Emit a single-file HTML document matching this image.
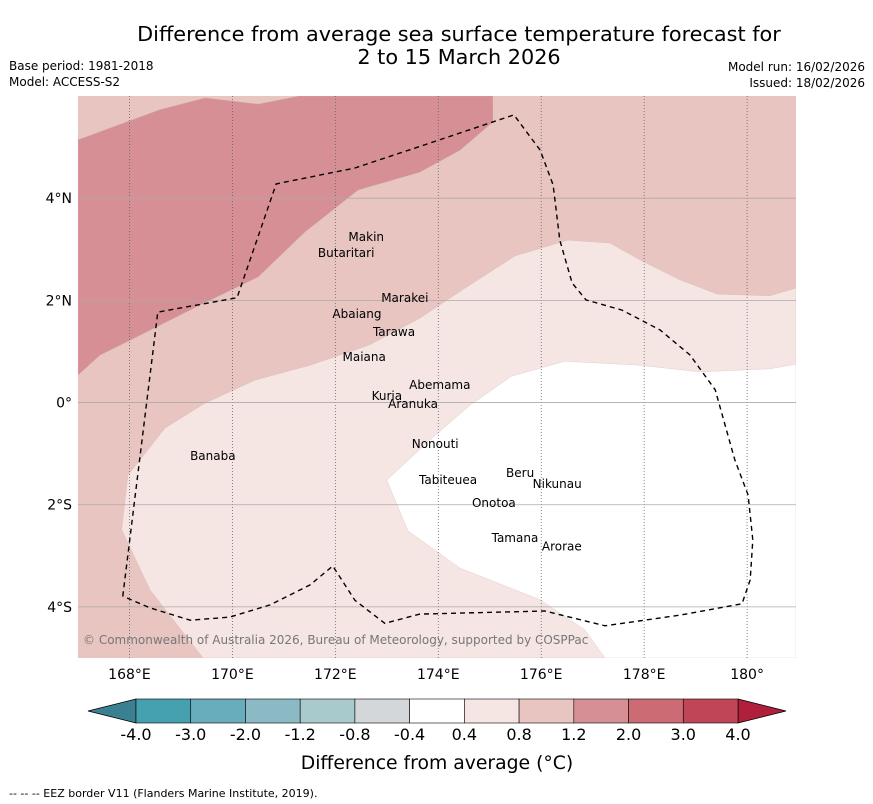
<!DOCTYPE html>
<html><head><meta charset="utf-8"><style>
body{margin:0;background:#fff;font-family:"DejaVu Sans","Liberation Sans",sans-serif;}
svg{display:block}
</style></head><body>
<svg id="chart" width="873" height="804" xmlns="http://www.w3.org/2000/svg" font-family="DejaVu Sans, Liberation Sans, sans-serif">
<text x="459" y="41" font-size="20.8" text-anchor="middle">Difference from average sea surface temperature forecast for</text>
<text x="459" y="64" font-size="20.8" text-anchor="middle">2 to 15 March 2026</text>
<text x="9" y="70" font-size="12">Base period: 1981-2018</text>
<text x="9" y="86" font-size="12">Model: ACCESS-S2</text>
<text x="865" y="71" font-size="12" text-anchor="end">Model run: 16/02/2026</text>
<text x="865" y="87" font-size="12" text-anchor="end">Issued: 18/02/2026</text>
<defs><clipPath id="mapclip"><rect x="78" y="96" width="718" height="562"/></clipPath></defs>
<g id="map" clip-path="url(#mapclip)">
<rect x="78" y="96" width="718" height="562" fill="#e8c5c1"/>
</g>
<g id="labels"></g>
<g id="axes"></g>
<g id="cbar"></g>
<text x="437" y="769" font-size="18.8" text-anchor="middle">Difference from average (°C)</text>
<text x="9" y="797" font-size="11">--  --  -- EEZ border V11 (Flanders Marine Institute, 2019).</text>
</svg>
<script>
const NS='http://www.w3.org/2000/svg';
const lonMin=167, lonMax=180.95, latMax=6, latMin=-5;
const X0=78, X1=796, Y0=96, Y1=658;
function xs(lon){return X0+(lon-lonMin)/(lonMax-lonMin)*(X1-X0);}
function ys(lat){return Y0+(latMax-lat)/(latMax-latMin)*(Y1-Y0);}
const darkLon=[167.0,168.59,169.47,170.50,171.31,175.06,175.06,174.42,173.64,172.44,171.41,170.50,169.37,168.01,167.43,167.0];
const darkLat=[5.14,5.73,5.96,5.84,6.0,6.0,5.49,4.94,4.51,4.16,3.34,2.46,1.91,1.22,0.93,0.54];
const lightLon=[169.43,168.40,167.85,167.97,168.69,169.47,170.44,171.51,172.67,173.64,174.46,175.49,176.52,177.34,177.92,178.70,179.43,180.44,180.95,180.95];
const lightLat=[-5.0,-3.67,-2.49,-1.42,-0.50,-0.01,0.44,0.73,1.13,1.65,2.20,2.87,3.18,3.12,2.79,2.40,2.12,2.09,2.24,-5.0];
const whiteLon=[173.00,173.84,174.62,175.43,176.46,177.92,179.08,180.44,180.95,180.95,177.24,176.85,175.98,174.42,173.41];
const whiteLat=[-1.52,-0.73,-0.05,0.52,0.81,0.73,0.60,0.66,0.75,-5.0,-5.0,-4.45,-3.86,-3.24,-2.51];
const eezLon=[167.87,168.55,170.09,170.85,172.38,173.84,175.47,175.98,176.23,176.36,176.60,176.87,177.57,178.31,178.89,179.38,179.76,180.02,180.11,180.06,179.90,178.70,177.24,176.07,173.64,172.96,172.38,171.95,171.51,170.73,169.95,169.18,168.40,167.87];
const eezLat=[-3.79,1.77,2.05,4.28,4.59,5.08,5.63,4.94,4.26,3.18,2.34,2.01,1.81,1.42,0.93,0.25,-1.12,-1.81,-2.69,-3.47,-3.94,-4.16,-4.37,-4.08,-4.14,-4.32,-3.87,-3.20,-3.57,-3.96,-4.20,-4.26,-4.02,-3.79];
const islandNames=['Makin','Butaritari','Marakei','Abaiang','Tarawa','Maiana','Abemama','Kuria','Aranuka','Nonouti','Tabiteuea','Beru','Nikunau','Onotoa','Tamana','Arorae','Banaba'];
const islandLon=[172.60,172.21,173.35,172.42,173.14,172.56,174.03,173.00,173.51,173.94,174.19,175.59,176.31,175.08,175.49,176.40,169.62];
const islandLat=[3.16,2.85,1.97,1.65,1.30,0.81,0.27,0.05,-0.11,-0.89,-1.59,-1.46,-1.67,-2.04,-2.73,-2.90,-1.12];
const lonTicks=[168,170,172,174,176,178,180];
const lonTickLabels=['168°E','170°E','172°E','174°E','176°E','178°E','180°'];
const latTicks=[4,2,0,-2,-4];
const latTickLabels=['4°N','2°N','0°','2°S','4°S'];
const cbLevels=['-4.0','-3.0','-2.0','-1.2','-0.8','-0.4','0.4','0.8','1.2','2.0','3.0','4.0'];
const cbColors=['#45a0b0','#68adbb','#8bbac5','#a9cacd','#d3d7d9','#ffffff','#f5e6e4','#e8c5c1','#d78f96','#cd6b75','#c04657'];

function mk(tag,attrs,parent){const e=document.createElementNS(NS,tag);for(const k in attrs)e.setAttribute(k,attrs[k]);parent.appendChild(e);return e;}
function pts(lo,la){return lo.map((v,i)=>xs(v).toFixed(1)+','+ys(la[i]).toFixed(1)).join(' ');}
const map=document.getElementById('map');
let p=mk('polygon',{points:pts(darkLon,darkLat),fill:'#d78f96',stroke:'#c9a5a5','stroke-width':0.5},map);


p=mk('polygon',{points:pts(lightLon,lightLat),fill:'#f5e6e4',stroke:'#d9c0bd','stroke-width':0.5},map);


p=mk('polygon',{points:pts(whiteLon,whiteLat),fill:'#ffffff',stroke:'#e0d0ce','stroke-width':0.5},map);


lonTicks.forEach(l=>{const g=mk('line',{x1:xs(l),x2:xs(l),y1:Y0,y2:Y1,stroke:'#666','stroke-width':0.8,'stroke-dasharray':'1,2'},map);

});
latTicks.forEach(l=>{const g=mk('line',{x1:X0,x2:X1,y1:ys(l),y2:ys(l),stroke:'#b0a8a8','stroke-width':0.8},map);

});
p=mk('polyline',{points:pts(eezLon,eezLat),fill:'none',stroke:'#000','stroke-width':1.4,'stroke-dasharray':'5,4'},map);


let c=mk('text',{x:83,y:644,'font-size':12,fill:'#777'},map);c.textContent='© Commonwealth of Australia 2026, Bureau of Meteorology, supported by COSPPac';


const lab=document.getElementById('labels');
islandNames.forEach((n,i)=>{
  const t=mk('text',{x:xs(islandLon[i]),y:ys(islandLat[i]),'font-size':12,'text-anchor':'middle'},lab);
  t.textContent=n;
  
  
});
const ax=document.getElementById('axes');
lonTicks.forEach((l,i)=>{const t=mk('text',{x:xs(l),y:679,'font-size':14,'text-anchor':'middle'},ax);t.textContent=lonTickLabels[i];

});
latTicks.forEach((l,i)=>{const t=mk('text',{x:72,y:ys(l)+5,'font-size':14,'text-anchor':'end'},ax);t.textContent=latTickLabels[i];

});
const cb=document.getElementById('cbar');
const cbX0=136,cbX1=738,cbY=699,cbH=24,bw=(cbX1-cbX0)/cbColors.length;
let tri=mk('polygon',{points:`${cbX0},${cbY} ${cbX0},${cbY+cbH} 88,${cbY+cbH/2}`,fill:'#3b8090',stroke:'#000','stroke-width':0.8},cb);


tri=mk('polygon',{points:`${cbX1},${cbY} ${cbX1},${cbY+cbH} 786,${cbY+cbH/2}`,fill:'#b0203c',stroke:'#000','stroke-width':0.8},cb);


cbColors.forEach((col,i)=>{const r=mk('rect',{x:cbX0+i*bw,y:cbY,width:bw,height:cbH,fill:col,stroke:'#000','stroke-width':0.6},cb);

});
cbLevels.forEach((v,i)=>{const t=mk('text',{x:cbX0+i*bw,y:740,'font-size':16,'text-anchor':'middle'},cb);t.textContent=v;

});
</script>
</body></html>
